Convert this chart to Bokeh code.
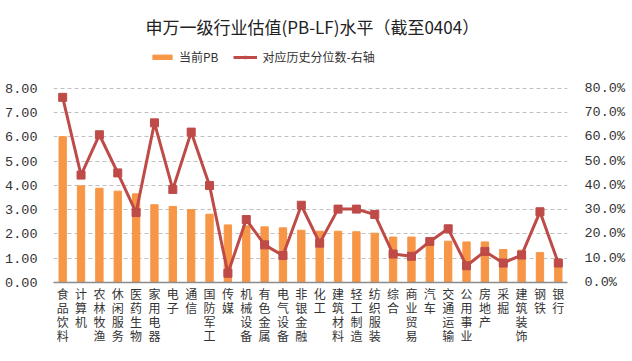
from bokeh.plotting import figure
from bokeh.models import (Range1d, LinearAxis, CategoricalAxis, FactorRange, Legend, LegendItem,
                          Title, FixedTicker, PrintfTickFormatter, ColumnDataSource,
                          CustomJSTickFormatter)
from bokeh.embed import file_html
from bokeh.resources import INLINE

categories = ["食品饮料", "计算机", "农林牧渔", "休闲服务", "医药生物", "家用电器", "电子", "通信",
              "国防军工", "传媒", "机械设备", "有色金属", "电气设备", "非银金融", "化工", "建筑材料",
              "轻工制造", "纺织服装", "综合", "商业贸易", "汽车", "交通运输", "公用事业", "房地产",
              "采掘", "建筑装饰", "钢铁", "银行"]
pb = [6.00, 3.98, 3.88, 3.76, 3.65, 3.20, 3.13, 3.00, 2.81, 2.37, 2.33, 2.29, 2.25, 2.15,
      2.11, 2.11, 2.09, 2.03, 1.87, 1.87, 1.80, 1.70, 1.67, 1.67, 1.36, 1.33, 1.23, 0.89]
pct = [76.2, 44.2, 60.8, 45.1, 28.8, 65.7, 38.3, 61.9, 39.9, 3.8, 25.9, 15.5, 11.1, 31.8,
       16.2, 30.2, 30.2, 28.0, 11.7, 10.8, 16.9, 22.1, 6.9, 12.8, 8.0, 11.3, 29.1, 8.0]
left_ticks = [0, 1, 2, 3, 4, 5, 6, 7, 8]
right_ticks = [0, 10, 20, 30, 40, 50, 60, 70, 80]

title_text = "申万一级行业估值(PB-LF)水平（截至0404）"
bar_label = "当前PB"
line_label = "对应历史分位数-右轴"

BAR = "#F79646"
RED = "#BE4B48"
CJK = "Noto Sans CJK SC"
NUM = "Liberation Mono"
TXT = "#333333"

# frame extends above the 8.00 line to host the legend (no visible frame/axis lines)
Y_TOP = 9.96
src = ColumnDataSource(dict(cat=categories, pb=pb, pct=pct))

p = figure(x_range=FactorRange(*categories), y_range=Range1d(0, Y_TOP),
           width=628, height=357,
           min_border_left=53, min_border_right=56, min_border_top=40, min_border_bottom=75,
           output_backend="svg", toolbar_location=None, title=None)
p.extra_y_ranges = {"pct": Range1d(0, Y_TOP * 10)}

bars = p.vbar(x="cat", top="pb", width=0.4, source=src, color=BAR)
line = p.line(x="cat", y="pct", source=src, y_range_name="pct", color=RED, line_width=3)
marks = p.scatter(x="cat", y="pct", source=src, y_range_name="pct", marker="square",
                  size=8, color=RED)

# left axis
ya = p.yaxis[0]
ya.ticker = FixedTicker(ticks=left_ticks)
ya.formatter = PrintfTickFormatter(format="%.2f")
ya.axis_line_color = None
ya.major_tick_line_color = None
ya.minor_tick_line_color = None
ya.major_label_text_font = NUM
ya.major_label_text_font_size = "13.5px"
ya.major_label_text_color = TXT
ya.major_label_standoff = 10

ra = LinearAxis(y_range_name="pct", ticker=FixedTicker(ticks=right_ticks),
                formatter=PrintfTickFormatter(format="%.1f%%"))
ra.axis_line_color = None
ra.major_tick_line_color = None
ra.minor_tick_line_color = None
ra.major_label_text_font = NUM
ra.major_label_text_font_size = "13.5px"
ra.major_label_text_color = TXT
ra.major_label_standoff = 11
p.add_layout(ra, "right")

# vertical category labels: one stacked axis per character row
max_len = max(len(c) for c in categories)
for j in range(max_len):
    if j == 0:
        ax = p.xaxis[0]
        ax.axis_line_color = "#8C8C8C"
        ax.axis_line_width = 1.5
        ax.major_label_standoff = 2
    else:
        ax = CategoricalAxis()
        ax.axis_line_color = None
        ax.major_label_standoff = -6
        p.add_layout(ax, "below")
    ax.major_tick_line_color = None
    ax.minor_tick_line_color = None
    ax.major_tick_out = 0
    ax.major_tick_in = 0
    ax.major_label_text_font = CJK
    ax.major_label_text_font_size = "12px"
    ax.major_label_text_color = TXT
    ax.formatter = CustomJSTickFormatter(args=dict(J=j), code="""
        const s = String(tick);
        return s.length > J ? s[J] : "";
    """)

p.xgrid.grid_line_color = None
p.ygrid.grid_line_color = "#C0C0C0"
p.ygrid.grid_line_dash = "4 3"
p.ygrid.grid_line_width = 1
p.outline_line_color = None

legend = Legend(items=[LegendItem(label=bar_label, renderers=[bars]),
                       LegendItem(label=line_label, renderers=[line, marks])],
                orientation="horizontal", location=(97, 217),
                glyph_width=24, glyph_height=6, label_standoff=5, spacing=15,
                padding=4, margin=0, border_line_color=None, background_fill_alpha=0,
                label_text_font=CJK, label_text_font_size="12px", label_text_color=TXT)
p.add_layout(legend, "center")

t = Title(text=title_text, align="left", offset=92, text_font=CJK, text_font_size="17px",
          text_font_style="normal", text_color="#222222", standoff=3)
p.add_layout(t, "above")

open("out.html", "w").write(file_html(p, INLINE))
